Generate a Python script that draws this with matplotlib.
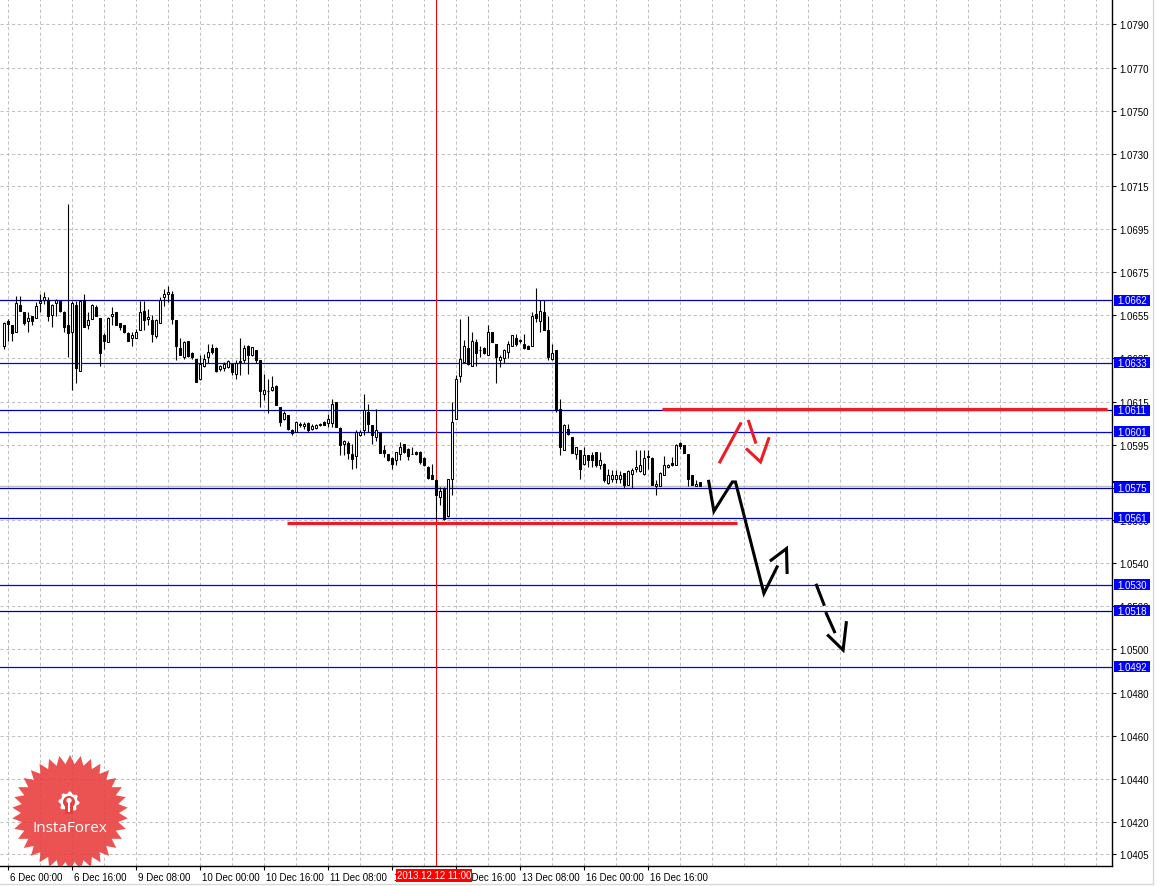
import numpy as np
import matplotlib.pyplot as plt
from matplotlib.patches import Rectangle, Polygon, Circle
from matplotlib.transforms import ScaledTranslation, blended_transform_factory

# EURUSD-like H1 candles, bar index 0 = 6 Dec 00:00
bars = list(range(-1, 174))
opens = [1.06407, 1.06526, 1.06507, 1.06475, 1.06598, 1.06564, 1.06526, 1.06546, 1.06537, 1.06606,
         1.06623, 1.06623, 1.06552, 1.06606, 1.06618, 1.06567, 1.06506, 1.06475, 1.06598, 1.06294,
         1.06623, 1.06503, 1.06534, 1.06588, 1.06537, 1.06459, 1.06425, 1.06546, 1.06564, 1.06515,
         1.06506, 1.06469, 1.06444, 1.06444, 1.06484, 1.06572, 1.06534, 1.06530, 1.06456, 1.06515,
         1.06634, 1.06649, 1.06649, 1.06530, 1.06398, 1.06356, 1.06433, 1.06376, 1.06348, 1.06253,
         1.06314, 1.06356, 1.06398, 1.06398, 1.06302, 1.06305, 1.06310, 1.06325, 1.06279, 1.06333,
         1.06345, 1.06407, 1.06364, 1.06387, 1.06341, 1.06186, 1.06199, 1.06206, 1.06222, 1.06124,
         1.06067, 1.06089, 1.06016, 1.06009, 1.06046, 1.06037, 1.06052, 1.06024, 1.06027, 1.06040,
         1.06055, 1.06052, 1.06052, 1.06148, 1.06027, 1.05955, 1.05960, 1.05908, 1.05898, 1.05993,
         1.06016, 1.06101, 1.06040, 1.05986, 1.06009, 1.05927, 1.05905, 1.05890, 1.05878, 1.05905,
         1.05952, 1.05929, 1.05909, 1.05916, 1.05916, 1.05890, 1.05847, 1.05808, 1.05785, 1.05708,
         1.05749, 1.05620, 1.05790, 1.06071, 1.06268, 1.06333, 1.06398, 1.06314, 1.06426, 1.06387,
         1.06399, 1.06364, 1.06472, 1.06418, 1.06345, 1.06350, 1.06382, 1.06410, 1.06444, 1.06433,
         1.06418, 1.06410, 1.06407, 1.06557, 1.06526, 1.06565, 1.06480, 1.06348, 1.06387, 1.06117,
         1.05924, 1.06021, 1.05986, 1.05908, 1.05924, 1.05862, 1.05900, 1.05900, 1.05916, 1.05854,
         1.05862, 1.05774, 1.05792, 1.05792, 1.05792, 1.05820, 1.05764, 1.05815, 1.05835, 1.05826,
         1.05815, 1.05897, 1.05888, 1.05758, 1.05758, 1.05808, 1.05846, 1.05866, 1.05857, 1.05959,
         1.05950, 1.05908, 1.05811, 1.05758, 1.05777]
highs = [1.06521, 1.06534, 1.06507, 1.06639, 1.06639, 1.06567, 1.06564, 1.06546, 1.06614, 1.06649,
         1.06660, 1.06634, 1.06603, 1.06626, 1.06618, 1.06572, 1.07066, 1.06618, 1.06618, 1.06623,
         1.06649, 1.06564, 1.06603, 1.06598, 1.06537, 1.06469, 1.06541, 1.06588, 1.06567, 1.06515,
         1.06506, 1.06475, 1.06475, 1.06487, 1.06618, 1.06618, 1.06580, 1.06552, 1.06534, 1.06634,
         1.06672, 1.06685, 1.06665, 1.06530, 1.06444, 1.06433, 1.06433, 1.06379, 1.06348, 1.06364,
         1.06371, 1.06418, 1.06418, 1.06402, 1.06320, 1.06333, 1.06341, 1.06330, 1.06341, 1.06444,
         1.06413, 1.06413, 1.06402, 1.06387, 1.06345, 1.06279, 1.06256, 1.06268, 1.06225, 1.06124,
         1.06104, 1.06089, 1.06024, 1.06058, 1.06055, 1.06055, 1.06055, 1.06047, 1.06047, 1.06052,
         1.06058, 1.06094, 1.06163, 1.06148, 1.06032, 1.05970, 1.05967, 1.05952, 1.06016, 1.06016,
         1.06186, 1.06140, 1.06040, 1.06117, 1.06009, 1.05947, 1.05908, 1.05893, 1.05916, 1.05962,
         1.05955, 1.05936, 1.05940, 1.05919, 1.05919, 1.05893, 1.05851, 1.05862, 1.05793, 1.05754,
         1.05754, 1.05793, 1.06148, 1.06271, 1.06534, 1.06436, 1.06549, 1.06472, 1.06441, 1.06410,
         1.06402, 1.06503, 1.06472, 1.06418, 1.06367, 1.06395, 1.06433, 1.06460, 1.06464, 1.06441,
         1.06464, 1.06413, 1.06565, 1.06676, 1.06619, 1.06619, 1.06546, 1.06418, 1.06387, 1.06163,
         1.06044, 1.06044, 1.05986, 1.05939, 1.05924, 1.05939, 1.05900, 1.05916, 1.05916, 1.05916,
         1.05866, 1.05839, 1.05831, 1.05831, 1.05826, 1.05820, 1.05831, 1.05842, 1.05923, 1.05923,
         1.05923, 1.05923, 1.05893, 1.05784, 1.05823, 1.05897, 1.05862, 1.05893, 1.05954, 1.05962,
         1.05950, 1.05908, 1.05811, 1.05784, 1.05777]
lows = [1.06395, 1.06433, 1.06433, 1.06475, 1.06572, 1.06507, 1.06475, 1.06503, 1.06537, 1.06564,
        1.06603, 1.06526, 1.06495, 1.06549, 1.06564, 1.06475, 1.06356, 1.06206, 1.06237, 1.06294,
        1.06495, 1.06487, 1.06534, 1.06546, 1.06314, 1.06395, 1.06425, 1.06503, 1.06503, 1.06484,
        1.06469, 1.06433, 1.06407, 1.06444, 1.06484, 1.06484, 1.06503, 1.06425, 1.06444, 1.06515,
        1.06595, 1.06614, 1.06510, 1.06345, 1.06364, 1.06348, 1.06356, 1.06348, 1.06243, 1.06248,
        1.06310, 1.06330, 1.06371, 1.06287, 1.06290, 1.06294, 1.06305, 1.06274, 1.06256, 1.06274,
        1.06330, 1.06279, 1.06361, 1.06330, 1.06124, 1.06155, 1.06098, 1.06197, 1.06132, 1.06036,
        1.06063, 1.06016, 1.05996, 1.06009, 1.06032, 1.06021, 1.06011, 1.06016, 1.06021, 1.06037,
        1.06040, 1.06032, 1.06032, 1.06032, 1.05904, 1.05904, 1.05885, 1.05836, 1.05842, 1.05990,
        1.05993, 1.06009, 1.05955, 1.05966, 1.05913, 1.05893, 1.05873, 1.05836, 1.05854, 1.05878,
        1.05913, 1.05878, 1.05905, 1.05901, 1.05862, 1.05851, 1.05793, 1.05793, 1.05607, 1.05669,
        1.05600, 1.05615, 1.05715, 1.06071, 1.06243, 1.06333, 1.06320, 1.06314, 1.06314, 1.06356,
        1.06371, 1.06364, 1.06426, 1.06237, 1.06310, 1.06330, 1.06350, 1.06410, 1.06410, 1.06423,
        1.06392, 1.06392, 1.06407, 1.06521, 1.06472, 1.06484, 1.06341, 1.06341, 1.06101, 1.05901,
        1.05924, 1.05993, 1.05913, 1.05885, 1.05793, 1.05854, 1.05846, 1.05846, 1.05846, 1.05839,
        1.05777, 1.05769, 1.05777, 1.05774, 1.05774, 1.05749, 1.05761, 1.05749, 1.05823, 1.05823,
        1.05808, 1.05839, 1.05761, 1.05715, 1.05758, 1.05808, 1.05842, 1.05851, 1.05854, 1.05931,
        1.05913, 1.05758, 1.05761, 1.05758, 1.05758]
closes = [1.06515, 1.06510, 1.06469, 1.06606, 1.06572, 1.06513, 1.06537, 1.06526, 1.06595, 1.06618,
          1.06634, 1.06549, 1.06598, 1.06623, 1.06572, 1.06495, 1.06469, 1.06608, 1.06305, 1.06618,
          1.06495, 1.06529, 1.06598, 1.06546, 1.06375, 1.06433, 1.06537, 1.06557, 1.06503, 1.06495,
          1.06475, 1.06433, 1.06459, 1.06475, 1.06564, 1.06530, 1.06541, 1.06464, 1.06530, 1.06623,
          1.06649, 1.06657, 1.06534, 1.06407, 1.06364, 1.06425, 1.06361, 1.06356, 1.06243, 1.06325,
          1.06348, 1.06382, 1.06382, 1.06294, 1.06314, 1.06325, 1.06336, 1.06287, 1.06330, 1.06336,
          1.06398, 1.06364, 1.06402, 1.06345, 1.06197, 1.06206, 1.06197, 1.06217, 1.06135, 1.06055,
          1.06098, 1.06021, 1.06005, 1.06055, 1.06043, 1.06047, 1.06016, 1.06037, 1.06040, 1.06044,
          1.06043, 1.06067, 1.06140, 1.06032, 1.05947, 1.05967, 1.05913, 1.05885, 1.06009, 1.06009,
          1.06109, 1.06044, 1.05996, 1.06019, 1.05913, 1.05913, 1.05877, 1.05862, 1.05916, 1.05939,
          1.05916, 1.05898, 1.05909, 1.05905, 1.05870, 1.05854, 1.05796, 1.05793, 1.05715, 1.05735,
          1.05607, 1.05790, 1.06055, 1.06256, 1.06348, 1.06407, 1.06325, 1.06433, 1.06376, 1.06389,
          1.06376, 1.06475, 1.06426, 1.06356, 1.06356, 1.06387, 1.06415, 1.06457, 1.06418, 1.06435,
          1.06398, 1.06395, 1.06546, 1.06537, 1.06572, 1.06484, 1.06356, 1.06376, 1.06109, 1.05939,
          1.06040, 1.06001, 1.05913, 1.05939, 1.05839, 1.05903, 1.05877, 1.05877, 1.05854, 1.05877,
          1.05784, 1.05808, 1.05811, 1.05811, 1.05811, 1.05761, 1.05826, 1.05831, 1.05846, 1.05857,
          1.05888, 1.05893, 1.05764, 1.05769, 1.05820, 1.05857, 1.05857, 1.05854, 1.05950, 1.05944,
          1.05913, 1.05792, 1.05764, 1.05769, 1.05758]

# price axis ticks (MT4 style, uneven)
price_ticks = [1.0790, 1.0770, 1.0750, 1.0730, 1.0715, 1.0695, 1.0675, 1.0655, 1.0635, 1.0615,
               1.0595, 1.0575, 1.0560, 1.0540, 1.0520, 1.0500, 1.0480, 1.0460, 1.0440, 1.0420, 1.0405]
time_ticks = [0, 16, 32, 48, 64, 80, 96, 112, 128, 144, 160]
time_labels = ["6 Dec 00:00", "6 Dec 16:00", "9 Dec 08:00", "10 Dec 00:00", "10 Dec 16:00",
               "11 Dec 08:00", "12 Dec 00:00", "12 Dec 16:00", "13 Dec 08:00", "16 Dec 00:00",
               "16 Dec 16:00"]

# horizontal levels
levels = [1.0662, 1.0633, 1.0611, 1.0601, 1.0575, 1.0561, 1.0530, 1.0518, 1.0492]
level_dark = [True, False, True, False, True, True, False, True, False]
bid = 1.05758

# red support / resistance lines: (start bar, end bar, price)
red_lines = [(163.6, 274.9, 1.06116), (69.9, 182.4, 1.05585)]

# hand drawn forecast strokes (bar, price)
black_path = [(175.3, 1.05780), (176.6, 1.05641), (181.2, 1.05777), (182.0, 1.05777),
              (189.1, 1.05260), (192.4, 1.05383)]
black_head = [(190.9, 1.05414), (194.75, 1.05468), (194.9, 1.05357)]
black_dash = [[(202.25, 1.05298), (204.1, 1.05209)],
              [(204.7, 1.05167), (206.75, 1.05082)],
              [(205.2, 1.05064), (208.9, 1.04997), (209.7, 1.05124)]]
red_strokes = [[(178.1, 1.05870), (183.25, 1.06047)],
               [(185.3, 1.06058), (187.0, 1.05962)],
               [(184.9, 1.05928), (188.25, 1.05870), (190.3, 1.05978)]]

cross_bar = 107
cross_label = "2013.12.12 11:00"

W, H = 1163, 887
fig = plt.figure(figsize=(W / 100, H / 100), dpi=100)
ax = fig.add_axes([0, 1 - 867 / H, 1112 / W, 867 / H])
ax.set_xlim(-1.875, 276.125)
ax.set_ylim(1.03995, 1.08018)

font = 'Liberation Sans'
grid_kw = dict(color='#c0c0c0', linestyle=(0, (3, 2.5)), linewidth=0.75)

for p in price_ticks:
    ax.axhline(p, zorder=0.5, **grid_kw)
for b in range(0, 277, 8):
    ax.axvline(b, zorder=0.5, **grid_kw)

# levels
for lv, dark in zip(levels, level_dark):
    ax.axhline(lv, color='#0000b0' if dark else '#0000ff', lw=0.9, zorder=1)
ax.axhline(bid, color='#c0c0c0', lw=1.0, zorder=0.9)

# crosshair
ax.axvline(cross_bar + 0.1, color='#ff0000', lw=0.75, zorder=1.2)

# candles
o = np.array(opens); h = np.array(highs); l = np.array(lows); c = np.array(closes)
x = np.array(bars)
ax.vlines(x, l, h, color='black', lw=0.8, zorder=3)
face = np.where(c >= o, 'white', 'black')
ax.bar(x, np.abs(c - o), bottom=np.minimum(o, c), width=0.5, color=face,
       edgecolor='black', linewidth=0.75, zorder=4)

for x0, x1, p in red_lines:
    ax.hlines(p, x0, x1, color='#ec1c24', lw=2.3, zorder=5)

def stroke(pts, color):
    xs, ys = zip(*pts)
    ax.plot(xs, ys, color=color, lw=2.2, zorder=6, solid_joinstyle='miter')

stroke(black_path, 'black')
stroke(black_head, 'black')
for seg in black_dash:
    stroke(seg, 'black')
for seg in red_strokes:
    stroke(seg, '#ec1c24')

# axes look
for s in ['left', 'top']:
    ax.spines[s].set_visible(False)
ax.spines['right'].set_linewidth(1)
ax.spines['bottom'].set_linewidth(1)
ax.yaxis.tick_right()
ax.set_yticks(price_ticks)
ax.set_yticklabels(['%.4f' % p for p in price_ticks], fontfamily=font, fontsize=7)
ax.tick_params(axis='y', length=3, width=0.8, pad=2)
ax.set_xticks(time_ticks)
ax.set_xticklabels(time_labels, fontfamily=font, fontsize=7, ha='left')
ax.tick_params(axis='x', length=3, width=0.8, pad=1.5)
off = ScaledTranslation(2 / 100, 0, fig.dpi_scale_trans)
for t in ax.get_xticklabels():
    t.set_transform(t.get_transform() + off)

# right-side level labels
ytr = ax.get_yaxis_transform()
box_h = 11 / 21550
ax.add_patch(Rectangle((1.0009, bid + 0.00012), 0.0335, 0.00010, transform=ytr,
                       facecolor='black', edgecolor='none', clip_on=False, zorder=9))
for lv in levels:
    ax.add_patch(Rectangle((1.0018, lv - box_h / 2), 0.0324, box_h, transform=ytr,
                           facecolor='#0000ff', edgecolor='none', clip_on=False, zorder=10))
    ax.text(1.018, lv, '%.4f' % lv, transform=ytr, ha='center', va='center', color='white',
            fontfamily=font, fontsize=7, clip_on=False, zorder=11)

# crosshair time label
xtr = blended_transform_factory(ax.transData, ax.transAxes)
ax.text(106.6, -0.0108, cross_label, transform=xtr, ha='center', va='center', color='white',
        fontfamily=font, fontsize=7, zorder=11, clip_on=False,
        bbox=dict(boxstyle='square,pad=0.12', facecolor='#ff0000', edgecolor='none'))

# logo overlay in pixel coordinates, clipped to chart area
ov = fig.add_axes(ax.get_position(), zorder=5)
ov.set_xlim(0, 1112)
ov.set_ylim(867, 0)
ov.axis('off')
ov.patch.set_alpha(0)
cx, cy = 70, 814
n = 34
ang = np.linspace(0, 2 * np.pi, 2 * n, endpoint=False) - np.pi / 2
rad = np.where(np.arange(2 * n) % 2 == 0, 58, 49)
ov.add_patch(Polygon(np.c_[cx + rad * np.cos(ang), cy + rad * np.sin(ang)],
                     closed=True, facecolor='#e8403f', edgecolor='none', alpha=0.9))
gx, gy = 69, 803
ga = np.linspace(0, 2 * np.pi, 32, endpoint=False)
gr = np.where((np.arange(32) // 2) % 2 == 0, 10.5, 8.5)
ov.add_patch(Polygon(np.c_[gx + gr * np.cos(ga), gy + gr * np.sin(ga)], closed=True,
                     facecolor='white', edgecolor='none'))
ov.add_patch(Circle((gx, gy), 6, facecolor='#e8403f', edgecolor='none'))
ov.add_patch(Rectangle((gx - 4, gy + 3), 8, 9, facecolor='#e8403f', edgecolor='none'))
ov.add_patch(Circle((gx, gy - 1.5), 2.6, facecolor='white', edgecolor='none'))
ov.add_patch(Rectangle((gx - 1.2, gy), 2.4, 10, facecolor='white', edgecolor='none'))
ov.text(cx, 829, 'InstaForex', color='white', ha='center', va='center',
        fontfamily='Open Sans', fontsize=11)

# outer frame
fig.add_artist(plt.Line2D([1153 / W, 1153 / W], [1 - 885 / H, 1], color='#d8d8d8', lw=1,
                          transform=fig.transFigure))
fig.add_artist(plt.Line2D([0, 1153 / W], [1 - 885 / H, 1 - 885 / H], color='#d8d8d8', lw=1,
                          transform=fig.transFigure))

fig.savefig('out.png', dpi=100)
